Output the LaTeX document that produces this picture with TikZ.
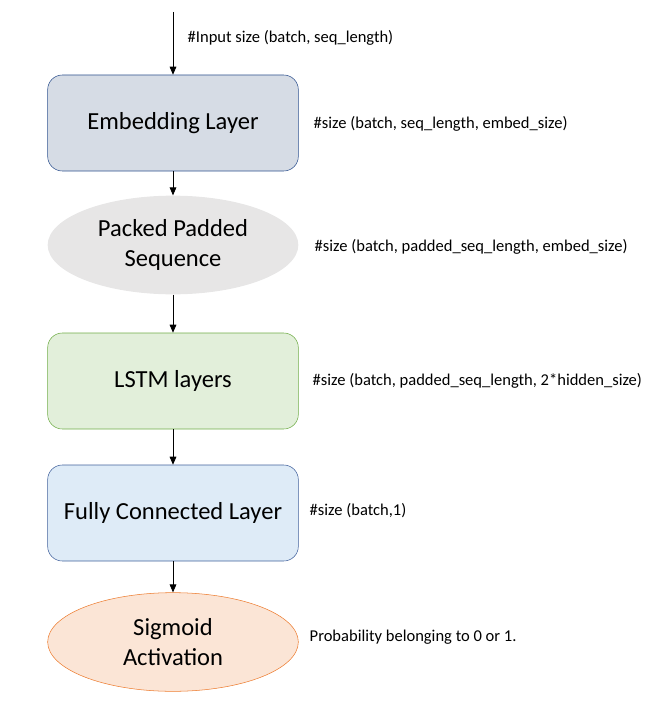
\documentclass[tikz,border=0pt]{standalone}
\usepackage{fontspec}
\setmainfont{Carlito}
\usepackage{tikz}
\usetikzlibrary{arrows.meta,shapes.geometric}

\definecolor{embfill}{HTML}{D6DCE5}
\definecolor{embdraw}{HTML}{2F528F}
\definecolor{packfill}{HTML}{E7E6E6}
\definecolor{lstmfill}{HTML}{E2EFDA}
\definecolor{lstmdraw}{HTML}{70AD47}
\definecolor{fcfill}{HTML}{DEEBF7}
\definecolor{fcdraw}{HTML}{41619C}
\definecolor{sigfill}{HTML}{FBE5D6}
\definecolor{sigdraw}{HTML}{ED7D31}

\begin{document}
\begin{tikzpicture}[x=0.75pt, y=-0.75pt,
    layerbox/.style={rectangle, rounded corners=11pt, minimum width=188pt, minimum height=72pt, font=\fontsize{18.4}{22.5}\selectfont, align=center},
    layeroval/.style={ellipse, minimum width=188pt, minimum height=74pt, inner sep=0pt, font=\fontsize{18.4}{22.5}\selectfont, align=center},
    sizenote/.style={anchor=west, font=\fontsize{12.4}{14}\selectfont},
    flow/.style={-{Triangle[length=6pt,width=5pt]}, line width=0.6pt}]

    \useasboundingbox (0,0) rectangle (646,706);

    \coordinate (in) at (173,12);

    \node[layerbox, fill=embfill, draw=embdraw] (embed) at (173,123) {Embedding Layer};

    \node[layeroval, fill=packfill] (packed) at (173,245) {Packed Padded\\Sequence};

    \node[layerbox, fill=lstmfill, draw=lstmdraw] (lstm) at (173,381) {LSTM layers};

    \node[layerbox, fill=fcfill, draw=fcdraw] (fc) at (173,513) {Fully Connected Layer};

    \node[layeroval, fill=sigfill, draw=sigdraw] (sigmoid) at (173,642) {Sigmoid\\Activation};



    \node[sizenote] (insize) at (183,38) {\#Input size (batch, seq\_length)};

    \node[sizenote] (embsize) at (309,124) {\#size (batch, seq\_length, embed\_size)};

    \node[sizenote] (packsize) at (310,247) {\#size (batch, padded\_seq\_length, embed\_size)};

    \node[sizenote] (lstmsize) at (308,381) {\#size (batch, padded\_seq\_length, 2*hidden\_size)};

    \node[sizenote] (fcsize) at (305,511) {\#size (batch,1)};

    \node[sizenote] (prob) at (305,637) {Probability belonging to 0 or 1.};



    \draw[flow] (in) -- (embed);

    \draw[flow] (embed) -- (packed);

    \draw[flow] (packed) -- (lstm);

    \draw[flow] (lstm) -- (fc);

    \draw[flow] (fc) -- (sigmoid);

  \end{tikzpicture}
\end{document}
